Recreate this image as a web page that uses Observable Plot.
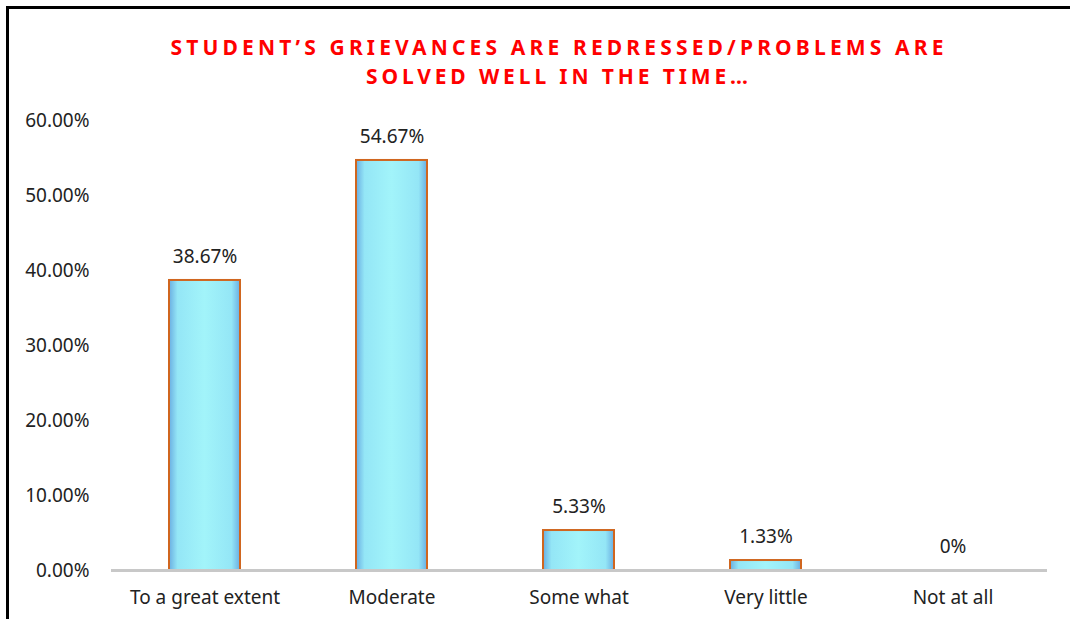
<!DOCTYPE html>
<html>
<head>
<meta charset="utf-8">
<script src="https://cdn.jsdelivr.net/npm/d3@7"></script>
<script src="https://cdn.jsdelivr.net/npm/@observablehq/plot@0.6"></script>
<style>
  html, body { margin: 0; padding: 0; background: #fff; }
  #wrap { position: relative; width: 1070px; height: 619px; overflow: hidden; background: #fff; }
  #frame { position: absolute; left: 6px; top: 6px; width: 1070px; height: 640px;
           border-top: 3px solid #000; border-left: 3px solid #000; box-sizing: border-box; }
  #title { position: absolute; left: 0; top: 0; }
  #chart { position: absolute; left: 0; top: 100px; }
</style>
</head>
<body>
<div id="wrap">
  <div id="frame"></div>
  <svg id="title" width="1070" height="100" xmlns="http://www.w3.org/2000/svg"></svg>
  <div id="chart"></div>
</div>
<script>
const titleLines = ["STUDENT’S GRIEVANCES ARE REDRESSED/PROBLEMS ARE", "SOLVED WELL IN THE TIME…"];
const categories = ["To a great extent", "Moderate", "Some what", "Very little", "Not at all"];
const values = [38.67, 54.67, 5.33, 1.33, 0];
const valueLabels = ["38.67%", "54.67%", "5.33%", "1.33%", "0%"];
const yTicks = [0, 10, 20, 30, 40, 50, 60];

const data = categories.map((c, i) => ({category: c, value: values[i], label: valueLabels[i]}));

// Title (above the plot)
const tsvg = d3.select("#title");
const titleWidths = [773, 382];
titleLines.forEach((t, i) => {
  tsvg.append("text")
    .attr("x", 557)
    .attr("y", 47 + i * 29)
    .attr("dy", "0.36em")
    .attr("text-anchor", "middle")
    .attr("textLength", titleWidths[i])
    .attr("lengthAdjust", "spacing")
    .attr("fill", "#FF0000")
    .attr("font-family", "'Noto Sans', 'Open Sans', sans-serif")
    .attr("font-weight", "bold")
    .style("font-size", "21px")
    .text(t);
});

const plot = Plot.plot({
  width: 1070,
  height: 519,
  marginTop: 20,
  marginBottom: 49,
  marginLeft: 111,
  marginRight: 23,
  style: {fontFamily: "'Noto Sans', 'Open Sans', sans-serif", fontSize: "19px", color: "#222", background: "transparent"},
  x: {domain: categories, paddingInner: 0.62, paddingOuter: 0.31, label: null},
  y: {domain: [0, 60], label: null},
  marks: [
    Plot.axisY({ticks: yTicks, tickFormat: d => d.toFixed(2) + "%", tickSize: 0, tickPadding: 22, fontSize: 19, fill: "#222"}),
    Plot.axisX({tickSize: 0, tickPadding: 20, fontSize: 19, fill: "#222"}),
    Plot.barY(data.filter(d => d.value > 0), {x: "category", y: "value", fill: "url(#barGrad)", stroke: "#D0661F", strokeWidth: 2}),
    Plot.ruleY([0], {stroke: "#C8C8C8", strokeWidth: 3}),
    Plot.text(data, {x: "category", y: "value", text: "label", dy: -24, fontSize: 19, fill: "#222"})
  ]
});

d3.select(plot).insert("defs", ":first-child").html(`
  <linearGradient id="barGrad" x1="0" x2="1" y1="0" y2="0">
    <stop offset="0" stop-color="#6AAEE2"/>
    <stop offset="0.12" stop-color="#94E6F6"/>
    <stop offset="0.5" stop-color="#A2F4FA"/>
    <stop offset="0.88" stop-color="#94E6F6"/>
    <stop offset="1" stop-color="#6AAEE2"/>
  </linearGradient>`);

document.getElementById("chart").appendChild(plot);
</script>
</body>
</html>
